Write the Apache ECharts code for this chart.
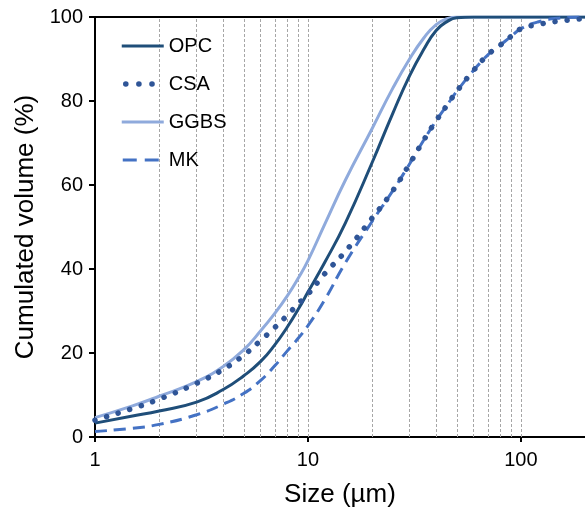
<!DOCTYPE html>
<html><head><meta charset="utf-8">
<script src="https://cdn.jsdelivr.net/npm/echarts@6/dist/echarts.min.js"></script>
<style>html,body{margin:0;padding:0;background:#fff}#c{width:585px;height:510px}</style>
</head><body><div id="c"></div>
<script>
// Particle size (µm)
const sizes = [1, 1.5, 2, 3, 4, 5, 6, 7, 8, 9, 10, 12, 15, 20, 25, 30, 35, 40, 45, 50, 60, 70, 80, 90, 100, 120, 150, 200];
// Cumulated volume (%)
const opc  = [3.3, 5.0, 6.2, 8.3, 11.3, 14.6, 18.0, 22.0, 26.2, 30.4, 34.5, 41.6, 51.0, 65.3, 77.0, 86.0, 92.3, 96.8, 98.9, 99.8, 100, 100, 100, 100, 100, 100, 100, 100];
const csa  = [4.0, 6.8, 9.0, 12.8, 16.1, 19.5, 23.0, 26.1, 29.0, 31.7, 34.0, 38.9, 44.2, 52.1, 58.6, 65.0, 70.7, 75.3, 79.0, 82.3, 87.3, 91.0, 93.3, 95.4, 97.2, 98.2, 99.0, 99.6];
const ggbs = [4.6, 7.4, 9.7, 13.2, 16.8, 20.8, 25.3, 29.5, 33.6, 37.8, 42.0, 50.7, 61.2, 73.4, 83.0, 90.0, 95.0, 98.2, 99.6, 100, 100, 100, 100, 100, 100, 100, 100, 100];
const mk   = [1.3, 2.1, 3.0, 5.3, 7.8, 10.4, 13.5, 17.0, 20.5, 23.5, 26.5, 32.7, 41.5, 51.3, 58.6, 65.0, 70.7, 75.3, 79.0, 82.3, 87.3, 91.0, 93.3, 95.4, 97.2, 98.8, 99.7, 100];
// Vertical dashed gridlines
const gridValues = [2, 3, 4, 5, 6, 7, 8, 9, 10, 20, 30, 40, 50, 60, 70, 80, 90, 100];
const names = ['OPC', 'CSA', 'GGBS', 'MK'];

const font = "'Liberation Sans', Arial, sans-serif";
const pair = arr => sizes.map((s, i) => [s, arr[i]]);

const chart = echarts.init(document.getElementById('c'), null, {renderer: 'canvas'});
chart.setOption({
  backgroundColor: '#fff',
  animation: false,
  textStyle: {fontFamily: font},
  grid: {left: 95, right: 0, top: 17, bottom: 73, containLabel: false, outerBoundsMode: 'none'},
  legend: {
    data: [
      {name: names[0]},
      {name: names[1], lineStyle: {width: 5.5, type: [0.1, 13], cap: 'round', dashOffset: -4}},
      {name: names[2]},
      {name: names[3], lineStyle: {type: [14, 8], dashOffset: -1}}
    ],
    orient: 'vertical', left: 114, top: 31,
    itemWidth: 42, itemHeight: 20, itemGap: 18,
    itemStyle: {opacity: 0},
    lineStyle: {width: 3},
    textStyle: {fontSize: 20, color: '#000', fontFamily: font}
  },
  xAxis: [{
    type: 'log', logBase: 10, min: 1, max: 200, position: 'bottom',
    axisLine: {show: true, lineStyle: {color: '#000', width: 2}},
    axisTick: {show: true, inside: false, length: 5, lineStyle: {color: '#000', width: 2}},
    axisLabel: {fontSize: 20, color: '#000', margin: 13, showMaxLabel: false, fontFamily: font},
    splitLine: {show: false},
    name: 'Size (µm)', nameLocation: 'middle', nameGap: 45,
    nameTextStyle: {fontSize: 26, color: '#000', fontFamily: font}
  }, {
    type: 'log', logBase: 10, min: 1, max: 200, position: 'top',
    axisLine: {show: true, lineStyle: {color: '#000', width: 2}},
    axisTick: {show: false}, axisLabel: {show: false}, splitLine: {show: false}
  }],
  yAxis: {
    type: 'value', min: 0, max: 100, interval: 20,
    axisLine: {show: true, lineStyle: {color: '#000', width: 2}},
    axisTick: {show: true, inside: false, length: 6, lineStyle: {color: '#000', width: 2}},
    axisLabel: {fontSize: 20, color: '#000', margin: 12, fontFamily: font},
    splitLine: {show: false},
    name: 'Cumulated volume (%)', nameLocation: 'middle', nameGap: 55, nameRotate: 90,
    nameTextStyle: {fontSize: 26, color: '#000', fontFamily: font}
  },
  series: [
    {
      name: 'grid', type: 'line', data: [], silent: true, z: 1,
      markLine: {
        silent: true, symbol: 'none', z: 1, animation: false,
        label: {show: false},
        lineStyle: {color: '#a6a6a6', type: [3, 2], width: 1},
        data: gridValues.map(v => ({xAxis: v}))
      }
    },
    {
      name: 'GGBS', type: 'line', data: pair(ggbs), smooth: 0.5, showSymbol: false, symbol: 'none', z: 3,
      itemStyle: {color: '#8faadc'},
      lineStyle: {color: '#8faadc', width: 3}
    },
    {
      name: 'OPC', type: 'line', data: pair(opc), smooth: 0.5, showSymbol: false, symbol: 'none', z: 4,
      itemStyle: {color: '#1f4e79'},
      lineStyle: {color: '#1f4e79', width: 3}
    },
    {
      name: 'MK', type: 'line', data: pair(mk), smooth: 0.5, showSymbol: false, symbol: 'none', z: 5,
      itemStyle: {color: '#4472c4'},
      lineStyle: {color: '#4472c4', width: 3, type: [12, 7]}
    },
    {
      name: 'CSA', type: 'line', data: pair(csa), smooth: 0.5, showSymbol: false, symbol: 'none', z: 6,
      itemStyle: {color: '#2f5597'},
      lineStyle: {color: '#2f5597', width: 5.5, type: [0.1, 12], cap: 'round'}
    }
  ]
});
</script>
</body></html>
